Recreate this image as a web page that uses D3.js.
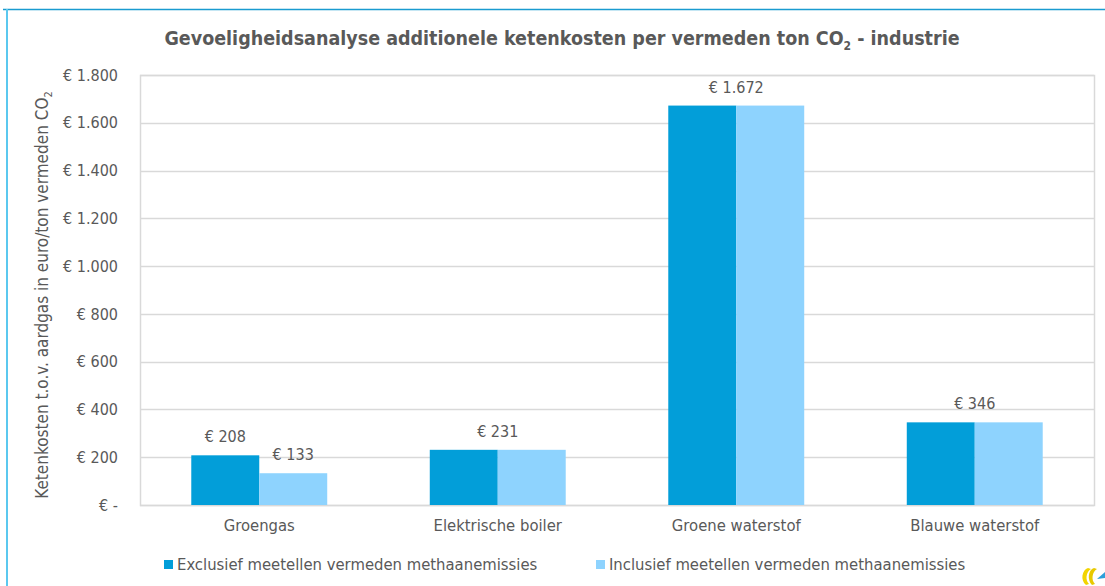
<!DOCTYPE html>
<html>
<head>
<meta charset="utf-8">
<script src="https://cdn.jsdelivr.net/npm/d3@7"></script>
<style>
  body { margin: 0; background: #fff; }
  text { font-family: "DejaVu Sans Condensed", sans-serif; fill: #595959; }
</style>
</head>
<body>
<div id="chart"></div>
<script>
// chart data
var categories = ["Groengas", "Elektrische boiler", "Groene waterstof", "Blauwe waterstof"];
var seriesNames = ["Exclusief meetellen vermeden methaanemissies", "Inclusief meetellen vermeden methaanemissies"];
var exclusief = [208, 231, 1672, 346];
var inclusief = [133, 231, 1672, 346];
var yTicks = [0, 200, 400, 600, 800, 1000, 1200, 1400, 1600, 1800];

var colors = ["#029ed9", "#8ed3fe"];

var width = 1105, height = 586;
var margin = {top: 75, right: 11, bottom: 81, left: 140};
var plot_w = width - margin.left - margin.right;
var plot_h = height - margin.top - margin.bottom;

var svg = d3.select("#chart").append("svg")
    .attr("width", width)
    .attr("height", height);

// frame lines of the slide
svg.append("line").attr("x1", 3).attr("x2", width).attr("y1", 9.5).attr("y2", 9.5)
    .attr("stroke", "#1a9bd0").attr("stroke-width", 1.5);
svg.append("line").attr("x1", 7).attr("x2", 7).attr("y1", 9).attr("y2", height)
    .attr("stroke", "#5bc8ef").attr("stroke-width", 2);

// euro format with dots for thousands
function euro(v) {
    if (v === 0) return "€ -";
    return "€ " + d3.format(",")(v).replace(/,/g, ".");
}

var x = d3.scaleBand().domain(categories).range([0, plot_w]).paddingInner(0.43).paddingOuter(0.215);
var x1 = d3.scaleBand().domain([0, 1]).range([0, x.bandwidth()]);
var y = d3.scaleLinear().domain([0, 1800]).range([plot_h, 0]);

var g = svg.append("g").attr("transform", "translate(" + margin.left + "," + margin.top + ")");

// grid
g.selectAll(".grid").data(yTicks).enter().append("line")
    .attr("x1", 0).attr("x2", plot_w)
    .attr("y1", function(d) { return Math.round(y(d)) + 0.5; })
    .attr("y2", function(d) { return Math.round(y(d)) + 0.5; })
    .attr("stroke", "#d9d9d9").attr("stroke-width", 1.5);
g.append("rect").attr("x", 0.5).attr("y", 0.5).attr("width", plot_w).attr("height", plot_h)
    .attr("fill", "none").attr("stroke", "#d9d9d9").attr("stroke-width", 1.5);

// y axis labels
var yAxis = d3.axisLeft(y).tickValues(yTicks).tickFormat(euro).tickSize(0).tickPadding(22);
var ya = g.append("g").call(yAxis);
ya.select(".domain").remove();
ya.selectAll("text").style("font-size", "16px").attr("fill", "#595959")
    .style("font-family", "'DejaVu Sans Condensed', sans-serif");

// x axis labels
var xAxis = d3.axisBottom(x).tickSize(0).tickPadding(14);
var xa = g.append("g").attr("transform", "translate(0," + plot_h + ")").call(xAxis);
xa.select(".domain").remove();
xa.selectAll("text").style("font-size", "16.5px").attr("fill", "#595959")
    .style("font-family", "'DejaVu Sans Condensed', sans-serif");

// bars
var rows = categories.map(function(c, i) { return {cat: c, vals: [exclusief[i], inclusief[i]]}; });
var grp = g.selectAll(".grp").data(rows).enter().append("g")
    .attr("transform", function(d) { return "translate(" + x(d.cat) + ",0)"; });
grp.selectAll("rect").data(function(d) { return d.vals; }).enter().append("rect")
    .attr("x", function(d, i) { return x1(i); })
    .attr("y", function(d) { return y(d); })
    .attr("width", x1.bandwidth())
    .attr("height", function(d) { return plot_h - y(d); })
    .attr("fill", function(d, i) { return colors[i]; });

// data labels: one centred label when both series are equal
grp.each(function(d) {
    var sel = d3.select(this);
    var labs = d.vals[0] === d.vals[1]
        ? [{v: d.vals[0], cx: x.bandwidth() / 2}]
        : d.vals.map(function(v, i) { return {v: v, cx: x1(i) + x1.bandwidth() / 2}; });
    labs.forEach(function(l) {
        sel.append("text").attr("x", l.cx).attr("y", y(l.v) - 13)
            .attr("text-anchor", "middle")
            .style("font-size", "16px")
            .text(euro(l.v));
    });
});

// title
var title = svg.append("text").attr("x", 562).attr("y", 45).attr("text-anchor", "middle")
    .style("font-size", "19.5px").style("font-weight", "bold");
title.append("tspan").text("Gevoeligheidsanalyse additionele ketenkosten per vermeden ton CO");
title.append("tspan").attr("dy", 5).style("font-size", "12px").text("2");
title.append("tspan").attr("dy", -5).text(" - industrie");

// y axis title
var yt = svg.append("text").attr("transform", "translate(48," + (margin.top + plot_h / 2 + 5) + ") rotate(-90)")
    .attr("text-anchor", "middle")
    .style("font-size", "17px");
yt.append("tspan").text("Ketenkosten t.o.v. aardgas in euro/ton vermeden CO");
yt.append("tspan").attr("dy", 4).style("font-size", "11px").text("2");

// legend
var legX = [164, 596];
var leg = svg.selectAll(".leg").data(seriesNames).enter().append("g")
    .attr("transform", function(d, i) { return "translate(" + legX[i] + ",560)"; });
leg.append("rect").attr("width", 9).attr("height", 9).attr("fill", function(d, i) { return colors[i]; });
leg.append("text").attr("x", 13).attr("y", 10)
    .style("font-size", "16.5px")
    .text(function(d) { return d; });

// small logo bottom right
var logo = svg.append("g").attr("transform", "translate(1080,566)");
logo.append("path").attr("d", "M8,2 C2,4 0,14 6,19 L9,18 C5,14 6,6 11,3 Z").attr("fill", "#f2d400");
logo.append("path").attr("d", "M14,2 C8,4 7,14 12,19 L15,18 C11,14 12,6 17,3 Z").attr("fill", "#e8c900");
logo.append("path").attr("d", "M17,13 L25,6 L25,12 Z").attr("fill", "#2c9fd9");
</script>
</body>
</html>
